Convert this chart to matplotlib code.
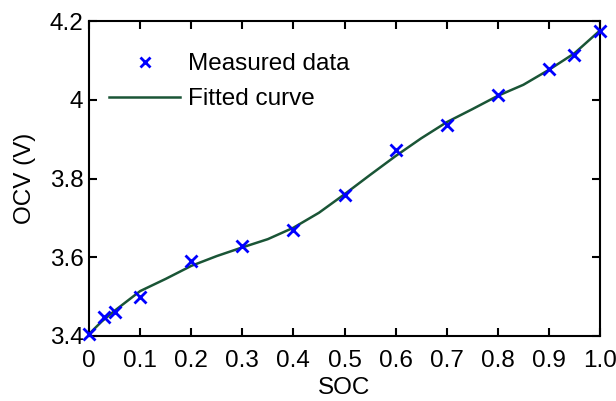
import numpy as np
import matplotlib
matplotlib.use("Agg")
import matplotlib.pyplot as plt

plt.rcParams['font.family'] = ['Liberation Sans', 'DejaVu Sans']

# measured OCV points
soc_meas = [0, 0.03, 0.05, 0.1, 0.2, 0.3, 0.4, 0.5, 0.6, 0.7, 0.8, 0.9, 0.95, 1.0]
ocv_meas = [3.404, 3.449, 3.462, 3.500, 3.591, 3.629, 3.668, 3.758, 3.872, 3.935,
            4.011, 4.077, 4.114, 4.175]

# fitted curve
soc_fit = [0, 0.025, 0.05, 0.1, 0.15, 0.2, 0.25, 0.3, 0.35, 0.4, 0.45, 0.5, 0.55,
           0.6, 0.65, 0.7, 0.75, 0.8, 0.85, 0.9, 0.95, 1.0]
ocv_fit = [3.405, 3.437, 3.464, 3.514, 3.545, 3.578, 3.603, 3.625, 3.646, 3.675,
           3.713, 3.760, 3.809, 3.857, 3.902, 3.943, 3.976, 4.010, 4.038, 4.076,
           4.118, 4.176]

xticks = [0, 0.1, 0.2, 0.3, 0.4, 0.5, 0.6, 0.7, 0.8, 0.9, 1.0]
xlabels = ["0", "0.1", "0.2", "0.3", "0.4", "0.5", "0.6", "0.7", "0.8", "0.9", "1.0"]
yticks = [3.4, 3.6, 3.8, 4.0, 4.2]
ylabels = ["3.4", "3.6", "3.8", "4", "4.2"]

fs = 17.5

fig = plt.figure(figsize=(6.16, 4.01), dpi=100)
ax = fig.add_axes([89/616, 65/401, 511/616, 315/401])

ax.plot(soc_meas, ocv_meas, 'x', color='#0000ff', markersize=9, markeredgewidth=2,
        label='Measured data', zorder=3, clip_on=False)
ax.plot(soc_fit, ocv_fit, '-', color='#1a5536', linewidth=1.8, label='Fitted curve',
        zorder=2)

ax.set_xlim(0, 1)
ax.set_ylim(3.4, 4.2)
ax.set_xticks(xticks)
ax.set_xticklabels(xlabels)
ax.set_yticks(yticks)
ax.set_yticklabels(ylabels)
ax.tick_params(direction='in', length=6, width=1.5, top=True, right=True,
               labelsize=fs)
ax.tick_params(axis='x', pad=10)
ax.tick_params(axis='y', pad=4)
for s in ax.spines.values():
    s.set_linewidth(1.5)

ax.set_xlabel('SOC', fontsize=fs, labelpad=4)
ax.set_ylabel('OCV (V)', fontsize=fs, labelpad=10)

ax.legend(loc='upper left', frameon=False, fontsize=fs, handlelength=2.9,
          handletextpad=0.35, borderaxespad=0.0, labelspacing=0.55,
          markerscale=0.75, bbox_to_anchor=(0.021, 0.929))

fig.savefig('out.png', dpi=100)
